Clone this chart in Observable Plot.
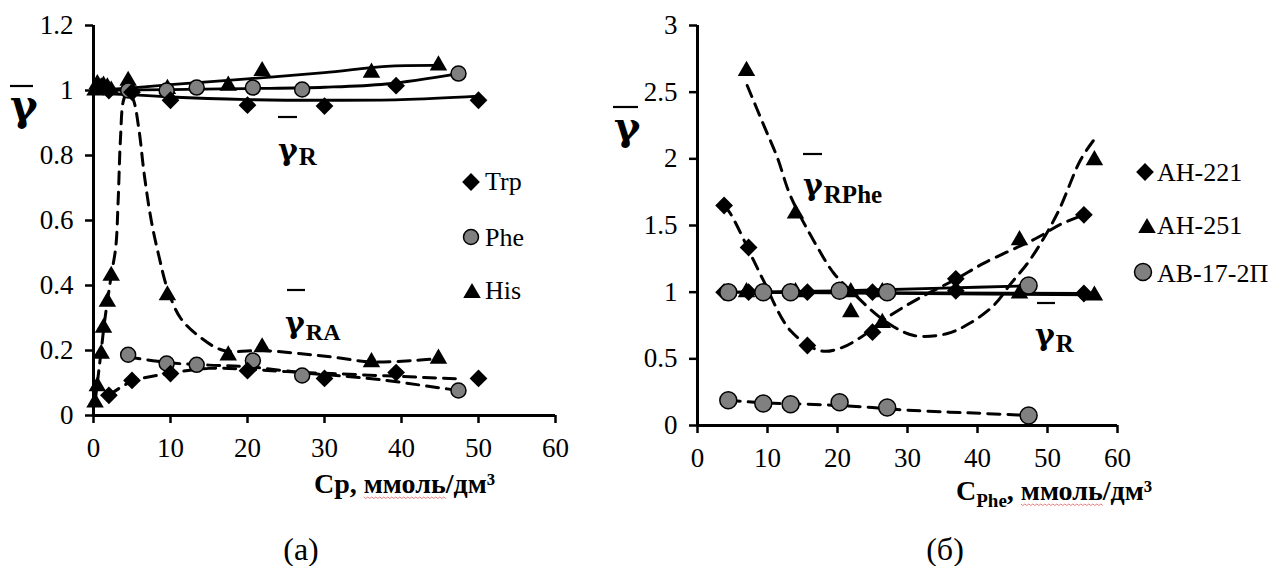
<!DOCTYPE html>
<html><head><meta charset="utf-8">
<script src="https://cdn.jsdelivr.net/npm/d3@7"></script>
<script src="https://cdn.jsdelivr.net/npm/@observablehq/plot@0.6"></script>
<style>
body{margin:0;background:#fff;}
#wrap{position:relative;width:1275px;height:566px;overflow:hidden;background:#fff;}
#wrap svg{position:absolute;top:0;}
</style></head><body><div id="wrap"></div>
<script>
// ================= DATA: chart (а) =================
const xTicksA = [0, 10, 20, 30, 40, 50, 60];
const yTicksA = [0, 0.2, 0.4, 0.6, 0.8, 1, 1.2];
const trpX  = [2, 5, 10, 20, 30, 39.3, 50];
const trpR  = [1.0, 0.995, 0.97, 0.955, 0.952, 1.015, 0.97];
const trpRA = [0.062, 0.108, 0.129, 0.138, 0.114, 0.132, 0.114];
const pheX  = [4.5, 9.5, 13.4, 20.7, 27.1, 47.4];
const pheR  = [1.0, 1.0, 1.009, 1.009, 1.003, 1.052];
const pheRA = [0.187, 0.16, 0.156, 0.169, 0.123, 0.077];
const hisX  = [0.2, 0.5, 1.0, 1.3, 1.8, 2.3, 4.5, 9.6, 17.5, 21.9, 36.1, 44.8];
const hisR  = [1.0, 1.02, 1.01, 1.015, 1.01, 1.0, 1.03, 1.005, 1.015, 1.06, 1.055, 1.077];
const hisRA = [0.04, 0.09, 0.19, 0.27, 0.35, 0.43, 1.0, 0.37, 0.185, 0.21, 0.164, 0.175];
// trend curves (а)
const trpRfitX  = [0, 10, 20, 30, 40, 50];
const trpRfitY  = [0.995, 0.98, 0.972, 0.97, 0.972, 0.983];
const pheRfitX  = [0, 10, 20, 30, 38, 47.4];
const pheRfitY  = [1.0, 1.003, 1.006, 1.01, 1.02, 1.052];
const hisRfitX  = [0, 5, 10, 20, 30, 38, 44.8];
const hisRfitY  = [1.0, 1.008, 1.018, 1.036, 1.055, 1.074, 1.077];
const trpRAfitX = [2, 5, 10, 15, 20, 25, 31, 38, 43, 47];
const trpRAfitY = [0.062, 0.105, 0.13, 0.145, 0.142, 0.135, 0.129, 0.122, 0.117, 0.113];
const pheRAfitX = [4.5, 10, 15, 20, 27, 33, 38, 42, 45, 47.4];
const pheRAfitY = [0.18, 0.162, 0.155, 0.15, 0.132, 0.12, 0.108, 0.095, 0.085, 0.077];
const hisRAfitX = [0.2, 0.6, 1, 1.5, 2.3, 2.9, 3.2, 3.5, 3.9, 4.5, 5.2, 5.9, 6.6, 7.5, 8.5, 9.6, 11.3, 13.9, 16.9, 22, 27, 31, 36, 42, 44.8];
const hisRAfitY = [0.04, 0.12, 0.2, 0.3, 0.43, 0.52, 0.66, 0.85, 0.97, 1.0, 0.97, 0.88, 0.74, 0.6, 0.49, 0.39, 0.3, 0.24, 0.2, 0.2, 0.19, 0.18, 0.165, 0.17, 0.175];

// ================= DATA: chart (б) =================
const xTicksB = [0, 10, 20, 30, 40, 50, 60];
const yTicksB = [0, 0.5, 1, 1.5, 2, 2.5, 3];
const ah221X    = [3.8, 7.3, 15.7, 25, 36.9, 55.2];
const ah221R    = [1.0, 1.0, 1.0, 1.0, 1.01, 0.99];
const ah221RPhe = [1.65, 1.335, 0.6, 0.7, 1.1, 1.58];
const ah251X    = [7, 14, 21.9, 26.4, 46, 56.7];
const ah251R    = [1.0, 1.0, 1.0, 1.0, 0.99, 0.975];
const ah251RPhe = [2.66, 1.59, 0.85, 0.77, 1.39, 1.99];
const abX       = [4.4, 9.4, 13.3, 20.3, 27.1, 47.3];
const abR       = [1.0, 1.0, 1.0, 1.01, 1.0, 1.05];
const abRPhe    = [0.19, 0.165, 0.16, 0.175, 0.135, 0.075];
// trend curves (б)
const ah221RfitX = [3.8, 55.2];
const ah221RfitY = [1.0, 0.99];
const ah251RfitX = [7, 56.7];
const ah251RfitY = [1.0, 0.98];
const abRfitX    = [4.4, 20, 35, 47.3];
const abRfitY    = [1.0, 1.01, 1.03, 1.048];
const ah221PfitX = [3.8, 4.7, 8, 9.4, 13.3, 17.6, 20.4, 23.3, 27.1, 31.5, 37, 41, 48.6, 51.9, 55.2];
const ah221PfitY = [1.65, 1.59, 1.24, 1.09, 0.71, 0.56, 0.58, 0.66, 0.81, 0.95, 1.1, 1.22, 1.41, 1.51, 1.58];
const ah251PfitX = [7.1, 9.4, 11.4, 13.3, 17.1, 19.5, 22.3, 26.6, 30.9, 35.7, 39, 42.3, 44.7, 47.6, 51.4, 54.7, 56.6];
const ah251PfitY = [2.55, 2.26, 2.01, 1.72, 1.34, 1.14, 0.99, 0.79, 0.675, 0.69, 0.77, 0.9, 1.06, 1.25, 1.59, 1.99, 2.14];
const abPfitX    = [4.4, 9.4, 13.3, 18, 20.3, 25, 30, 36, 41, 47.3];
const abPfitY    = [0.19, 0.17, 0.163, 0.155, 0.15, 0.135, 0.115, 0.1, 0.09, 0.075];

// legends
const legendA = ["Trp", "Phe", "His"];
const legendB = ["АН-221", "АН-251", "АВ-17-2П"];

// ================= helpers =================
const zip = (xs, ys) => xs.map((x, i) => ({x, y: ys[i]}));
const fmt = d3.format("~g");
const FONT = "'Liberation Serif', 'Times New Roman', serif";
const GFONT = "'DejaVu Serif', 'Liberation Serif', serif";
const solid = (xs, ys) => Plot.line(zip(xs, ys), {x: "x", y: "y", curve: "catmull-rom", stroke: "black", strokeWidth: 2.8});
const dashed = (xs, ys) => Plot.line(zip(xs, ys), {x: "x", y: "y", curve: "catmull-rom", stroke: "black", strokeWidth: 3, strokeDasharray: "12,8"});
const diamonds = (xs, ys, r) => Plot.dot(zip(xs, ys), {x: "x", y: "y", symbol: d3.symbolDiamond2, r, fill: "black", stroke: "none"});
const triangles = (xs, ys, r) => Plot.dot(zip(xs, ys), {x: "x", y: "y", symbol: d3.symbolTriangle, r, fill: "black", stroke: "none"});
const circles = (xs, ys, r) => Plot.dot(zip(xs, ys), {x: "x", y: "y", symbol: "circle", r, fill: "#808080", stroke: "black", strokeWidth: 1.5});

function frame(opts) {
  const svg = Plot.plot({
    width: opts.width, height: opts.height,
    marginLeft: opts.ml, marginRight: opts.mr, marginTop: opts.mt, marginBottom: opts.mb,
    x: {domain: [0, 60]},
    y: {domain: opts.yDomain},
    style: {fontFamily: FONT, fontSize: "27px", color: "black", background: "transparent", overflow: "visible"},
    marks: [
      Plot.axisX({ticks: opts.xTicks, tickSize: 8, tickPadding: 14, strokeWidth: 2.5, label: null, fontSize: 27, tickFormat: fmt}),
      Plot.axisY({ticks: opts.yTicks, tickSize: 8, tickPadding: 12, strokeWidth: 2.5, label: null, fontSize: 27, tickFormat: fmt}),
      Plot.ruleX([0], {strokeWidth: 3}),
      Plot.ruleY([0], {strokeWidth: 3}),
      ...opts.marks
    ]
  });
  d3.select(svg).selectAll("text").style("font-family", FONT).style("font-size", "27px");
  return svg;
}

const wrap = document.getElementById("wrap");

const plotA = frame({
  width: 600, height: 460, ml: 93, mr: 45, mt: 25, mb: 45,
  yDomain: [0, 1.2], xTicks: xTicksA, yTicks: yTicksA,
  marks: [
    solid(trpRfitX, trpRfitY), solid(pheRfitX, pheRfitY), solid(hisRfitX, hisRfitY),
    dashed(trpRAfitX, trpRAfitY), dashed(pheRAfitX, pheRAfitY), dashed(hisRAfitX, hisRAfitY),
    triangles(hisX, hisR, 6.5), triangles(hisX, hisRA, 6.5),
    circles(pheX, pheR, 7.5), circles(pheX, pheRA, 7.5),
    diamonds(trpX, trpR, 8), diamonds(trpX, trpRA, 8)
  ]
});
plotA.style.left = "0px";
wrap.appendChild(plotA);

const plotB = frame({
  width: 675, height: 470, ml: 97, mr: 158, mt: 25, mb: 45,
  yDomain: [0, 3], xTicks: xTicksB, yTicks: yTicksB,
  marks: [
    solid(abRfitX, abRfitY), solid(ah221RfitX, ah221RfitY), solid(ah251RfitX, ah251RfitY),
    dashed(ah221PfitX, ah221PfitY), dashed(ah251PfitX, ah251PfitY), dashed(abPfitX, abPfitY),
    diamonds(ah221X, ah221R, 8), diamonds(ah221X, ah221RPhe, 8),
    triangles(ah251X, ah251R, 6.5), triangles(ah251X, ah251RPhe, 6.5),
    circles(abX, abR, 8.5), circles(abX, abRPhe, 8.5)
  ]
});
plotB.style.left = "600px";
wrap.appendChild(plotB);

// ================= overlay: labels, legends, captions =================
const ov = d3.select(wrap).append("svg")
  .attr("width", 1275).attr("height", 566)
  .style("left", "0px").style("pointer-events", "none")
  .style("font-family", FONT).attr("fill", "black");

function gam(x, y, size, sub, subSize, subDy, bar) {
  const t = ov.append("text").attr("x", x).attr("y", y).style("font-size", size + "px").attr("font-weight", "bold");
  t.append("tspan").style("font-family", GFONT).text("γ");
  if (sub) t.append("tspan").style("font-size", subSize + "px").attr("dx", 1).attr("dy", subDy).text(sub);
  ov.append("line").attr("x1", bar[0]).attr("x2", bar[1]).attr("y1", bar[2]).attr("y2", bar[2])
    .attr("stroke", "black").attr("stroke-width", 2.2);
}
gam(10, 120, 42, null, 0, 0, [10, 33, 86]);
gam(614, 140, 40, null, 0, 0, [613, 638, 107]);
gam(278, 160, 30, "R", 25, 5, [278, 297, 117]);
gam(285, 333, 30, "RA", 24, 7, [287, 305, 290]);
gam(803, 195, 30, "RPhe", 25, 8, [803, 822, 154]);
gam(1035, 345, 30, "R", 25, 7, [1037, 1055, 303]);

function sym(type, cx, cy, r, fill, stroke) {
  ov.append("path").attr("transform", `translate(${cx},${cy})`)
    .attr("d", d3.symbol(type, Math.PI * r * r)())
    .attr("fill", fill).attr("stroke", stroke || "none").attr("stroke-width", 1.5);
}
function legText(x, y, s) {
  ov.append("text").attr("x", x).attr("y", y).style("font-size", "26px").text(s);
}
// legend (а)
sym(d3.symbolDiamond2, 471, 182, 8, "black");
legText(485, 190, legendA[0]);
sym(d3.symbolCircle, 471, 237, 7.5, "#808080", "black");
legText(485, 246, legendA[1]);
sym(d3.symbolTriangle, 472, 293, 6.5, "black");
legText(485, 299, legendA[2]);
// legend (б)
sym(d3.symbolDiamond2, 1145, 172, 8, "black");
legText(1157, 181, legendB[0]);
sym(d3.symbolTriangle, 1147, 228, 6.5, "black");
legText(1157, 234, legendB[1]);
sym(d3.symbolCircle, 1143, 272, 8.5, "#808080", "black");
legText(1157, 282, legendB[2]);

// wavy spell-check underline under a tspan
function wavy(tspan, baseline) {
  const n = tspan.node();
  const k = n.getNumberOfChars();
  const x0 = n.getStartPositionOfChar(0).x, x1 = n.getEndPositionOfChar(k - 1).x;
  let d = `M${x0},${baseline + 4}`;
  for (let x = x0, i = 0; x < x1; x += 2, i++) d += `L${x + 2},${baseline + 4 + (i % 2 ? 0 : 1.5)}`;
  ov.append("path").attr("d", d).attr("fill", "none").attr("stroke", "#e06060").attr("stroke-width", 0.8);
}

// axis titles
const tA = ov.append("text").attr("x", 314).attr("y", 493).style("font-size", "28px").attr("font-weight", "bold");
tA.append("tspan").text("Cp, ");
const mA = tA.append("tspan").text("ммоль");
tA.append("tspan").text("/дм³");
wavy(mA, 493);

const tB = ov.append("text").attr("x", 956).attr("y", 500).style("font-size", "28px").attr("font-weight", "bold");
tB.append("tspan").text("C");
tB.append("tspan").style("font-size", "19px").attr("dy", 7).text("Phe");
tB.append("tspan").attr("dy", -7).text(", ");
const mB = tB.append("tspan").text("ммоль");
tB.append("tspan").text("/дм³");
wavy(mB, 500);

// panel captions
ov.append("text").attr("x", 301).attr("y", 560).style("font-size", "32px").attr("text-anchor", "middle").text("(а)");
ov.append("text").attr("x", 945).attr("y", 560).style("font-size", "32px").attr("text-anchor", "middle").text("(б)");
</script>
</body></html>
